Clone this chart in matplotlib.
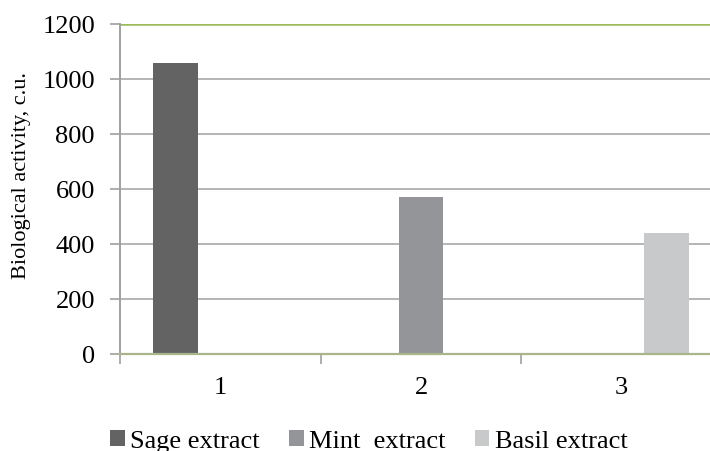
import matplotlib
matplotlib.use("Agg")
import matplotlib.pyplot as plt
import numpy as np
from matplotlib.patches import Patch

plt.rcParams['font.family'] = ['Liberation Serif', 'DejaVu Serif']

categories = ["1", "2", "3"]
series_names = ["Sage extract", "Mint  extract", "Basil extract"]
sage = [1060, 0, 0]
mint = [0, 570, 0]
basil = [0, 0, 440]
colors = ["#636363", "#939598", "#c8c9cb"]
y_ticks = [0, 200, 400, 600, 800, 1000, 1200]

fig = plt.figure(figsize=(7.10, 4.52), dpi=100)
ax = fig.add_axes([120 / 710, 97 / 452, 602 / 710, 330 / 452])

x = np.arange(1, len(categories) + 1)
w = 0.224
for i, (vals, c) in enumerate(zip([sage, mint, basil], colors)):
    ax.bar(x + (i - 1) * w, vals, width=w, color=c, zorder=3)

ax.set_xlim(0.5, 3.5)
ax.set_ylim(0, 1200)
ax.set_yticks(y_ticks)
ax.set_yticklabels([str(t) for t in y_ticks], fontsize=19)
for t in y_ticks[1:-1]:
    ax.axhline(t, color="#b4b4b8", lw=1.4, zorder=1)
ax.axhline(1200, color="#9bbb59", lw=1.8, zorder=1)

ax.set_xticks(x)
ax.set_xticklabels(categories, fontsize=19)
ax.set_xticks([0.5, 1.5, 2.5, 3.5], minor=True)
ax.tick_params(axis="x", which="major", length=0, pad=16)
ax.tick_params(axis="x", which="minor", length=7, color="#a0a0a0", width=1.2)
ax.tick_params(axis="y", length=7, color="#a0a0a0", width=1.2, pad=11)

for s in ["top", "right"]:
    ax.spines[s].set_visible(False)
ax.spines["left"].set_color("#a0a0a0")
ax.spines["left"].set_linewidth(1.4)
ax.spines["bottom"].set_color("#aab58a")
ax.spines["bottom"].set_linewidth(1.6)
ax.spines["bottom"].set_zorder(4)

fig.text(22 / 710, 1 - 176 / 452, "Biological activity, c.u.", fontsize=16,
         rotation=90, ha="center", va="center")

handles = [Patch(facecolor=c, edgecolor="none") for c in colors]
fig.legend(handles, series_names, loc="center", bbox_to_anchor=(369 / 710, 1 - 442 / 452),
           ncol=3, frameon=False, fontsize=19, handlelength=0.55, handleheight=0.55,
           handletextpad=0.22, columnspacing=1.1, borderpad=0, borderaxespad=0)

fig.savefig("out.png", dpi=100)
